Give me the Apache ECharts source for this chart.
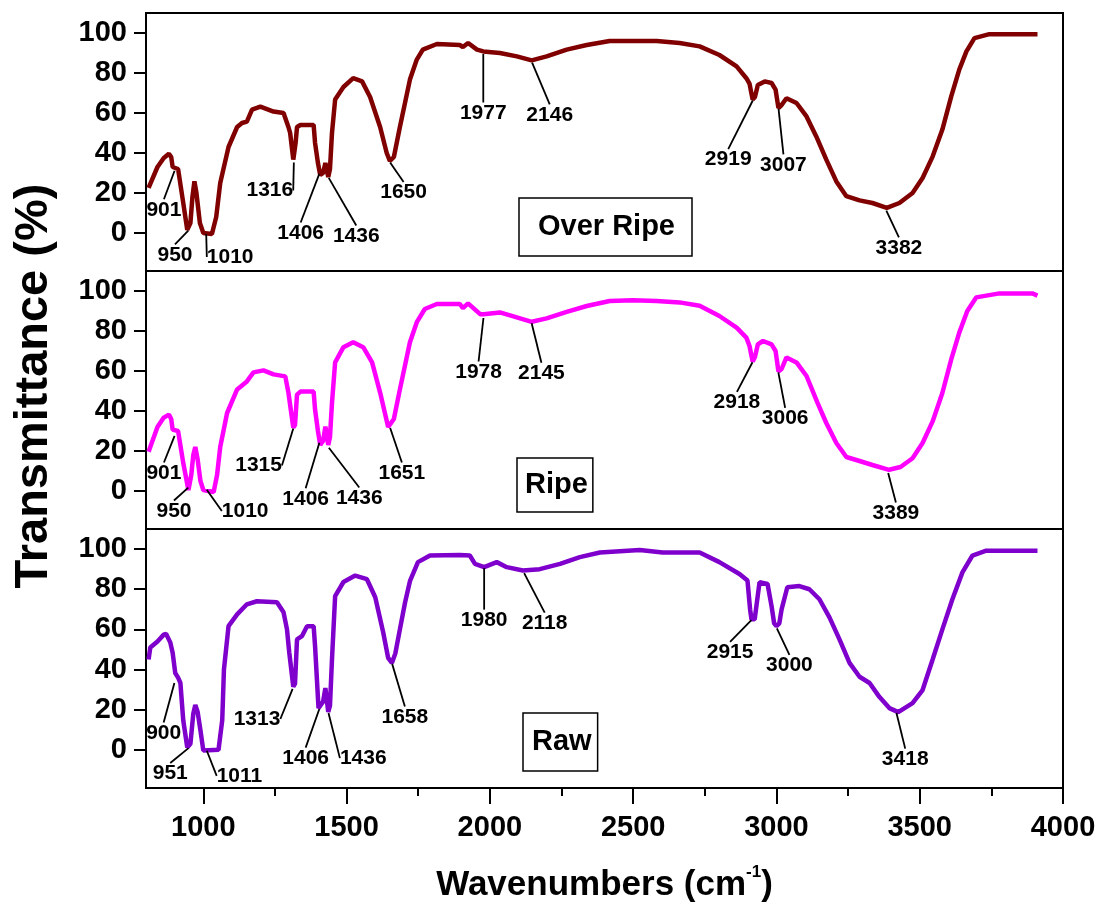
<!DOCTYPE html>
<html><head><meta charset="utf-8">
<script src="https://cdn.jsdelivr.net/npm/echarts@6/dist/echarts.min.js"></script>
<style>html,body{margin:0;padding:0;background:#fff}#c{width:1104px;height:909px}</style>
</head><body><div id="c"></div>
<script>
// ---- tick labels ----
const xTicks = [1000,1500,2000,2500,3000,3500,4000];
const xMinorTicks = [1250,1750,2250,2750,3250,3750];
const yTicks = [0,20,40,60,80,100];

// ---- Over Ripe spectrum ----
const overRipeWave = [809,840,862,880,888,893,912,930,944,955,962,969,976,988,1000,1030,1045,1059,1088,1118,1135,1152,1170,1199,1245,1280,1297,1303,1314,1318,1322,1327,1339,1385,1390,1400,1408,1418,1426,1436,1442,1449,1460,1489,1523,1554,1582,1617,1640,1651,1665,1686,1721,1745,1766,1815,1895,1906,1924,1955,1977,2035,2094,2146,2198,2268,2338,2418,2582,2662,2732,2801,2861,2895,2906,2917,2925,2935,2959,2983,2997,3007,3018,3035,3070,3105,3139,3174,3209,3244,3290,3335,3385,3429,3475,3510,3545,3579,3610,3638,3663,3691,3743,3911];
const overRipeT = [22.6,33,37.5,39.6,38,33,32,15,1.6,5,18,25.8,20,5,0,-0.5,8,25,43,53,55,55.7,61.7,63.2,60.7,60,53,50,36.7,36,45,53,54,54,45,35,29,30,35,28,32,50,66.7,73,77.4,75.8,68,53,40,36,38,53,76.7,86.7,91.7,94.5,94,93,95,91.7,90.8,90,88.3,86.3,88.3,91.7,94,96,96,95,93.3,89,83.3,77.4,74.7,66.7,68,74,75.8,75,71.7,62.5,64,67.4,65,58.3,48.3,36.7,25.8,18.4,16.3,15,12.6,15,20,27.5,38.2,51.7,68.3,81.7,90.8,97.4,99.4,99.4];

// ---- Ripe spectrum ----
const ripeWave = [809,840,862,880,888,893,912,930,948,958,965,972,980,990,1000,1036,1048,1059,1083,1118,1152,1175,1210,1245,1286,1297,1314,1320,1327,1339,1385,1390,1400,1408,1418,1426,1436,1442,1449,1460,1489,1523,1558,1589,1617,1645,1651,1665,1686,1721,1745,1773,1815,1895,1906,1924,1966,1978,2035,2094,2146,2198,2268,2338,2418,2499,2582,2662,2732,2801,2861,2895,2906,2917,2925,2935,2953,2983,2997,3007,3018,3035,3070,3105,3143,3174,3209,3244,3290,3335,3393,3433,3475,3510,3545,3579,3610,3638,3666,3697,3778,3893,3911];
const ripeT = [19.6,32,36.7,38.2,36,30.7,30,14,0.5,8,18,22,16,5,0.5,-0.5,8,22,39,50.8,54.8,59.3,60.3,58.3,57.3,49.2,31.7,33,48.2,49.7,49.7,40.7,30,23,25,32.2,23,27,44,64.3,71.9,74.4,71.9,64.3,49.2,32,32,36,50.8,74.4,84.4,91,93.5,93.5,91.4,93.8,88.4,88.4,89.3,86.8,84.6,86.3,89.6,92.5,95,95.4,95,94.3,92.6,87.5,81.7,76.7,72.5,64.7,67,73.3,75,73.3,70,59.8,61,66.8,64.3,57.5,44.2,34,24,17,15,13,10.6,12,16.4,24,34.8,49,65.8,79.2,90,96.8,98.8,98.8,97.7];

// ---- Raw spectrum ----
const rawWave = [809,815,840,862,870,885,893,902,912,920,930,944,955,965,972,980,990,1000,1053,1066,1072,1088,1118,1152,1187,1257,1280,1292,1300,1314,1320,1327,1344,1362,1385,1390,1402,1408,1418,1426,1436,1442,1449,1460,1489,1530,1571,1600,1628,1645,1658,1670,1686,1704,1721,1749,1791,1895,1930,1948,1980,2024,2059,2115,2174,2245,2314,2384,2523,2603,2732,2801,2871,2899,2908,2913,2924,2941,2969,2983,2992,3000,3010,3018,3038,3080,3115,3150,3185,3220,3255,3290,3325,3359,3394,3425,3475,3510,3545,3579,3614,3649,3684,3732,3911];
const rawT = [45,51,54,57.4,57.8,53.4,48.4,38.3,36,33.3,14.7,1.2,3,18,22.3,19,9.7,-0.3,0,14.7,40,61.6,67.5,72.5,74,73.5,68.5,60,48.4,31.4,33,55,56.6,61.6,61.6,51.6,20.8,20,24,30.8,18.9,22,45,76.6,83.6,86.8,85,76,58.3,45.8,43.3,48,60,73.4,84,93.5,96.8,97.1,96.8,92.6,91,93.5,91,89.3,90,92.6,96,98.3,99.5,98.3,98.3,93.5,87.6,84.3,70,65,65,83.5,82.6,71.6,63,61.6,63,70,81,81.6,80,75,66,55,43.3,36.4,33.3,26.4,20.8,18.8,23.3,29.8,45,60,75,88.4,96.8,99.2,99.2];

// ---- peak annotations (label wavenumber, transmittance at the marked point) ----
const overRipePeaks = [901,950,1010,1316,1406,1436,1650,1977,2146,2919,3007,3382];
const overRipePeakT = [31.6,1.6,0,35.7,30,28,35.7,90,85.6,66.7,62.6,11.6];
const ripePeaks = [901,950,1010,1315,1406,1436,1651,1978,2145,2918,3006,3389];
const ripePeakT = [28,2,1,31.7,24.6,22,32,87,84.4,64.8,59.8,9.5];
const rawPeaks = [900,951,1011,1313,1406,1436,1658,1980,2118,2915,3000,3418];
const rawPeakT = [33.8,1.2,0,30.8,20.8,18.8,43.3,91,88.5,65,61,18.8];

// ---- layout: label offsets (px) from the marked point ----
const overRipeOffsets = [[-11,40],[-14,25],[24,24],[-24,29],[-19,60],[28,59],[14,31],[0,60],[18,53],[-25,60],[5,57],[13,38]];
const ripeOffsets = [[-11,38],[-15,24],[39,22],[-35,38],[-14,57],[31,51],[12,46],[-5,55],[10,51],[-16,41],[7,47],[8,41]];
const rawOffsets = [[-11,51],[-19,26],[33,26],[-36,31],[-14,50],[35,46],[13,54],[0,53],[21,51],[-22,33],[13,38],[9,47]];

const FONT = '"Liberation Sans", Arial, sans-serif';
const pair = (xs, ys) => xs.map((x, i) => [x, ys[i]]);

function lineSeries(name, xs, ys, color, idx) {
  return {
    type: 'line', name: name, xAxisIndex: idx, yAxisIndex: idx,
    data: pair(xs, ys), showSymbol: false, symbol: 'none',
    lineStyle: { color: color, width: 4.5 }, itemStyle: { color: color },
    z: 2
  };
}
function peakSeries(name, xs, ys, offsets, idx) {
  return {
    type: 'scatter', name: name, xAxisIndex: idx, yAxisIndex: idx,
    data: pair(xs, ys), symbolSize: 2, silent: true,
    itemStyle: { color: 'rgba(0,0,0,0)', opacity: 1 },
    label: {
      show: true, position: 'inside', formatter: p => String(p.value[0]),
      fontSize: 21, fontWeight: 'bold', color: '#000', fontFamily: FONT,
      textBorderWidth: 0, textShadowBlur: 0, opacity: 1
    },
    labelLine: { show: true, lineStyle: { color: '#000', width: 1.8, opacity: 1 } },
    labelLayout: function (params) {
      const o = offsets[params.dataIndex];
      return { dx: o[0], dy: o[1] };
    },
    z: 5
  };
}
function legendBox(name, left, top, pad) {
  return {
    data: [name], left: left, top: top, orient: 'horizontal',
    icon: 'none', itemWidth: 0, itemHeight: 30, itemGap: 0,
    padding: pad, borderColor: '#000', borderWidth: 1.5,
    selectedMode: false,
    textStyle: { fontSize: 29, fontWeight: 'bold', color: '#000', fontFamily: FONT, lineHeight: 30 }
  };
}
function yAxisFor(idx) {
  return {
    type: 'value', gridIndex: idx, min: -19, max: 110,
    splitLine: { show: false },
    axisLine: { show: true, onZero: false, lineStyle: { color: '#000', width: 2 } },
    axisTick: { show: true, customValues: yTicks, length: 12, lineStyle: { color: '#000', width: 2 } },
    axisLabel: { show: true, customValues: yTicks, fontSize: 29, fontWeight: 'bold', color: '#000', fontFamily: FONT, margin: 19 }
  };
}
const hiddenX = idx => ({
  type: 'value', gridIndex: idx, min: 800, max: 4000,
  splitLine: { show: false }, axisLine: { show: false, onZero: false },
  axisTick: { show: false }, axisLabel: { show: false }
});
const gridBase = { left: 146, right: 41, show: true, borderColor: '#000', borderWidth: 2, backgroundColor: 'transparent' };

const option = {
  animation: false,
  backgroundColor: '#fff',
  grid: [
    Object.assign({ top: 13, height: 258 }, gridBase),
    Object.assign({ top: 271, height: 258 }, gridBase),
    Object.assign({ top: 529, height: 259 }, gridBase)
  ],
  xAxis: [
    hiddenX(0), hiddenX(1),
    {
      type: 'value', gridIndex: 2, min: 800, max: 4000, position: 'bottom',
      splitLine: { show: false },
      axisLine: { show: true, onZero: false, lineStyle: { color: '#000', width: 2 } },
      axisTick: { show: true, customValues: xTicks, length: 16, lineStyle: { color: '#000', width: 2 } },
      axisLabel: { show: true, customValues: xTicks, formatter: v => String(v), fontSize: 29, fontWeight: 'bold', color: '#000', fontFamily: FONT, margin: 25 },
      name: '{a|Wavenumbers (cm}{s|-1}{a|)}',
      nameLocation: 'middle', nameGap: 76,
      nameTextStyle: {
        rich: {
          a: { fontSize: 35, fontWeight: 'bold', color: '#000', fontFamily: FONT, lineHeight: 42 },
          s: { fontSize: 17, fontWeight: 'bold', color: '#000', fontFamily: FONT, lineHeight: 20, verticalAlign: 'top' }
        }
      }
    },
    {
      type: 'value', gridIndex: 2, min: 800, max: 4000, position: 'bottom',
      splitLine: { show: false }, axisLine: { show: false, onZero: false },
      axisTick: { show: true, customValues: xMinorTicks, length: 8, lineStyle: { color: '#000', width: 2 } },
      axisLabel: { show: false }
    }
  ],
  yAxis: [yAxisFor(0), yAxisFor(1), yAxisFor(2)],
  legend: [
    legendBox('Over Ripe', 519, 198, [14, 17, 14, 14]),
    legendBox('Ripe', 517, 458, [12, 5, 12, 3]),
    legendBox('Raw', 523, 713, [14, 6, 14, 4])
  ],
  graphic: [{
    type: 'text', x: 34, y: 386, rotation: Math.PI / 2,
    style: {
      text: 'Transmittance (%)', fontSize: 47, fontWeight: 'bold', fontFamily: FONT, fill: '#000',
      align: 'center', verticalAlign: 'middle', textAlign: 'center', textVerticalAlign: 'middle'
    }
  }],
  series: [
    lineSeries('Over Ripe', overRipeWave, overRipeT, '#800000', 0),
    lineSeries('Ripe', ripeWave, ripeT, '#FF00FF', 1),
    lineSeries('Raw', rawWave, rawT, '#7F00CC', 2),
    peakSeries('Over Ripe peaks', overRipePeaks, overRipePeakT, overRipeOffsets, 0),
    peakSeries('Ripe peaks', ripePeaks, ripePeakT, ripeOffsets, 1),
    peakSeries('Raw peaks', rawPeaks, rawPeakT, rawOffsets, 2)
  ]
};
const chart = echarts.init(document.getElementById('c'), null, { renderer: 'canvas' });
chart.setOption(option);
</script>
</body></html>
